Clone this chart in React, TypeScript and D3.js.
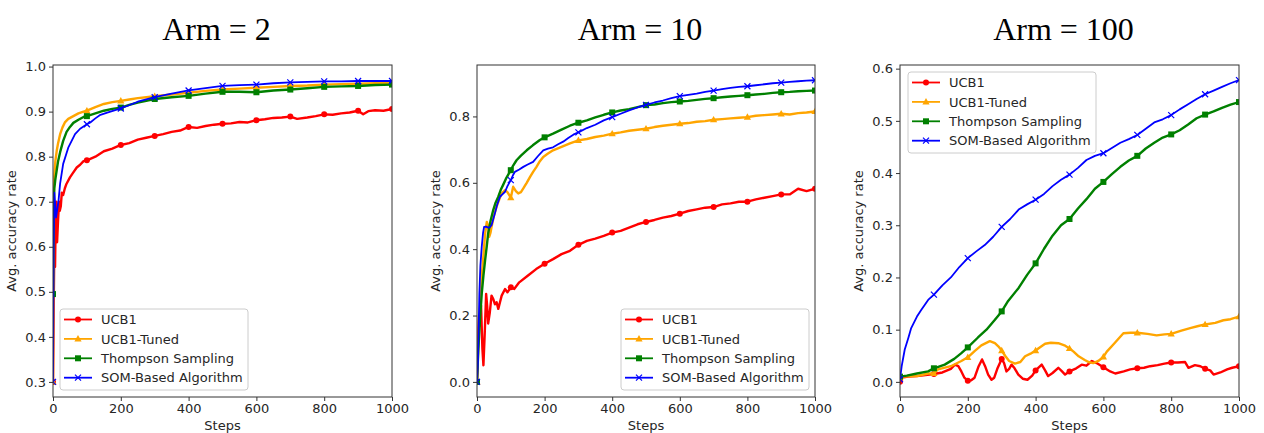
import React, { useRef, useEffect } from "react";
import * as d3 from "d3";

// [step, avg. accuracy]
const arm2Ucb1 = [
  [0, 0.3], [2, 0.45], [4, 0.62], [6, 0.555], [8, 0.66], [10, 0.7], [12, 0.61], [15, 0.66], [18, 0.7], [20, 0.68],
  [23, 0.69], [26, 0.72], [30, 0.715], [35, 0.73], [40, 0.74], [50, 0.754], [60, 0.765], [70, 0.776], [80, 0.782],
  [90, 0.79], [100, 0.792], [125, 0.8], [150, 0.812], [175, 0.818], [200, 0.826], [225, 0.83], [250, 0.838],
  [275, 0.842], [300, 0.846], [325, 0.85], [350, 0.855], [375, 0.858], [400, 0.866], [425, 0.864], [450, 0.868],
  [475, 0.871], [500, 0.873], [525, 0.874], [550, 0.877], [575, 0.876], [600, 0.881], [625, 0.883], [650, 0.886],
  [675, 0.887], [700, 0.889], [720, 0.884], [750, 0.887], [775, 0.89], [800, 0.894], [825, 0.893], [850, 0.896],
  [875, 0.898], [900, 0.902], [915, 0.894], [930, 0.901], [950, 0.903], [975, 0.902], [1000, 0.906],
];
const arm2Tuned = [
  [0, 0.3], [2, 0.74], [4, 0.76], [7, 0.79], [11, 0.813], [15, 0.83], [21, 0.85], [28, 0.865], [35, 0.876],
  [45, 0.884], [60, 0.89], [75, 0.896], [90, 0.9], [100, 0.902], [125, 0.91], [150, 0.917], [175, 0.921],
  [200, 0.924], [225, 0.927], [250, 0.93], [275, 0.932], [300, 0.934], [350, 0.938], [400, 0.942], [450, 0.946],
  [500, 0.949], [550, 0.951], [600, 0.953], [650, 0.955], [700, 0.957], [750, 0.958], [800, 0.96], [850, 0.961],
  [900, 0.962], [950, 0.963], [1000, 0.964],
];
const arm2Thompson = [
  [0, 0.495], [2, 0.69], [4, 0.73], [7, 0.75], [11, 0.77], [15, 0.79], [21, 0.81], [30, 0.835], [40, 0.855],
  [50, 0.866], [60, 0.875], [75, 0.882], [90, 0.888], [100, 0.89], [125, 0.896], [150, 0.902], [175, 0.906],
  [200, 0.909], [225, 0.915], [250, 0.92], [275, 0.924], [300, 0.928], [350, 0.932], [400, 0.935], [450, 0.94],
  [500, 0.944], [550, 0.944], [600, 0.943], [650, 0.947], [700, 0.949], [750, 0.952], [800, 0.955], [850, 0.956],
  [900, 0.957], [950, 0.959], [1000, 0.96],
];
const arm2Som = [
  [0, 0.3], [2, 0.6], [4, 0.72], [6, 0.7], [9, 0.665], [12, 0.68], [16, 0.7], [21, 0.74], [30, 0.784], [45, 0.82],
  [65, 0.85], [80, 0.862], [100, 0.872], [110, 0.876], [125, 0.885], [140, 0.893], [160, 0.898], [200, 0.907],
  [250, 0.922], [300, 0.932], [350, 0.94], [400, 0.947], [450, 0.952], [500, 0.957], [550, 0.959], [600, 0.96],
  [650, 0.963], [700, 0.965], [750, 0.966], [800, 0.967], [850, 0.967], [900, 0.968], [950, 0.968], [1000, 0.968],
];

const arm10Ucb1 = [
  [0, 0], [3, 0.12], [6, 0.2], [9, 0.17], [12, 0.23], [16, 0.1], [19, 0.05], [23, 0.15], [27, 0.265], [30, 0.23],
  [33, 0.176], [38, 0.21], [43, 0.26], [48, 0.25], [53, 0.234], [58, 0.24], [63, 0.22], [68, 0.24], [73, 0.26],
  [83, 0.28], [90, 0.27], [100, 0.285], [110, 0.28], [125, 0.3], [150, 0.32], [175, 0.34], [200, 0.356],
  [225, 0.37], [250, 0.385], [275, 0.395], [300, 0.413], [325, 0.425], [350, 0.432], [375, 0.44], [400, 0.45],
  [425, 0.455], [450, 0.465], [475, 0.475], [500, 0.482], [525, 0.488], [550, 0.495], [575, 0.5], [600, 0.507],
  [625, 0.515], [650, 0.52], [675, 0.525], [700, 0.527], [725, 0.535], [750, 0.538], [775, 0.543], [800, 0.543],
  [825, 0.55], [850, 0.555], [875, 0.56], [900, 0.565], [925, 0.565], [950, 0.582], [975, 0.575], [1000, 0.582],
];
const arm10Tuned = [
  [0, 0], [4, 0.116], [9, 0.22], [14, 0.317], [19, 0.38], [24, 0.447], [29, 0.482], [33, 0.47], [36, 0.437],
  [40, 0.45], [43, 0.467], [50, 0.5], [58, 0.528], [66, 0.55], [73, 0.568], [83, 0.578], [90, 0.572], [100, 0.555],
  [107, 0.588], [115, 0.575], [122, 0.568], [130, 0.572], [137, 0.583], [147, 0.6], [157, 0.618], [166, 0.633],
  [176, 0.648], [186, 0.665], [196, 0.678], [210, 0.688], [225, 0.698], [250, 0.708], [275, 0.719], [300, 0.728],
  [325, 0.732], [350, 0.738], [375, 0.742], [400, 0.748], [425, 0.752], [450, 0.757], [475, 0.76], [500, 0.763],
  [525, 0.768], [550, 0.772], [575, 0.775], [600, 0.778], [625, 0.78], [650, 0.784], [675, 0.786], [700, 0.79],
  [725, 0.792], [750, 0.794], [775, 0.796], [800, 0.798], [825, 0.802], [850, 0.804], [875, 0.806], [900, 0.808],
  [925, 0.806], [950, 0.81], [975, 0.812], [1000, 0.815],
];
const arm10Thompson = [
  [0, 0], [4, 0.1], [9, 0.19], [14, 0.266], [19, 0.32], [24, 0.367], [29, 0.41], [33, 0.447], [40, 0.485],
  [48, 0.518], [55, 0.54], [63, 0.558], [70, 0.578], [77, 0.593], [87, 0.615], [100, 0.638], [107, 0.652],
  [117, 0.668], [130, 0.682], [147, 0.698], [165, 0.713], [186, 0.729], [200, 0.737], [225, 0.748], [250, 0.76],
  [275, 0.772], [300, 0.781], [325, 0.788], [350, 0.797], [375, 0.805], [400, 0.812], [425, 0.818], [450, 0.822],
  [475, 0.828], [500, 0.834], [525, 0.836], [550, 0.84], [575, 0.843], [600, 0.845], [625, 0.847], [650, 0.85],
  [675, 0.853], [700, 0.855], [725, 0.858], [750, 0.86], [775, 0.862], [800, 0.864], [825, 0.866], [850, 0.868],
  [875, 0.871], [900, 0.873], [925, 0.874], [950, 0.876], [975, 0.877], [1000, 0.878],
];
const arm10Som = [
  [0, 0], [3, 0.065], [7, 0.266], [10, 0.35], [14, 0.407], [18, 0.45], [21, 0.467], [27, 0.468], [33, 0.465],
  [38, 0.466], [43, 0.472], [48, 0.49], [53, 0.508], [60, 0.535], [68, 0.558], [75, 0.565], [83, 0.573],
  [90, 0.59], [100, 0.608], [106, 0.622], [112, 0.633], [125, 0.64], [137, 0.648], [150, 0.655], [166, 0.663],
  [180, 0.68], [196, 0.698], [210, 0.703], [225, 0.707], [240, 0.716], [255, 0.724], [270, 0.735], [285, 0.745],
  [300, 0.752], [325, 0.765], [350, 0.775], [375, 0.788], [400, 0.798], [425, 0.808], [450, 0.818], [475, 0.827],
  [500, 0.835], [525, 0.842], [550, 0.848], [575, 0.855], [600, 0.861], [625, 0.865], [650, 0.869], [675, 0.874],
  [700, 0.878], [725, 0.882], [750, 0.886], [775, 0.889], [800, 0.891], [825, 0.894], [850, 0.897], [875, 0.9],
  [900, 0.902], [925, 0.904], [950, 0.906], [975, 0.908], [1000, 0.909],
];

const arm100Ucb1 = [
  [0, 0], [5, 0.008], [25, 0.01], [50, 0.011], [75, 0.013], [100, 0.015], [125, 0.018], [150, 0.025],
  [162, 0.033], [172, 0.03], [181, 0.02], [190, 0.008], [200, 0.002], [210, 0.003], [220, 0.008], [232, 0.03],
  [242, 0.043], [251, 0.03], [260, 0.014], [270, 0.004], [278, 0.008], [287, 0.025], [300, 0.044], [307, 0.036],
  [314, 0.02], [322, 0.025], [329, 0.033], [338, 0.026], [349, 0.014], [362, 0.006], [376, 0.004], [390, 0.012],
  [400, 0.022], [418, 0.033], [428, 0.022], [437, 0.011], [450, 0.017], [467, 0.027], [478, 0.02], [487, 0.014],
  [500, 0.02], [520, 0.026], [536, 0.033], [550, 0.031], [566, 0.04], [580, 0.036], [600, 0.028], [620, 0.02],
  [635, 0.016], [660, 0.02], [679, 0.024], [700, 0.026], [720, 0.027], [738, 0.03], [760, 0.032], [780, 0.035],
  [800, 0.037], [820, 0.037], [841, 0.038], [851, 0.027], [870, 0.032], [886, 0.03], [900, 0.025], [915, 0.022],
  [925, 0.014], [945, 0.018], [965, 0.024], [980, 0.027], [1000, 0.03],
];
const arm100Tuned = [
  [0, 0.008], [4, 0.01], [50, 0.011], [83, 0.016], [100, 0.016], [112, 0.024], [150, 0.03], [181, 0.04],
  [200, 0.047], [220, 0.059], [240, 0.07], [265, 0.078], [280, 0.074], [290, 0.068], [300, 0.06], [310, 0.05],
  [322, 0.04], [339, 0.035], [355, 0.038], [369, 0.049], [385, 0.054], [400, 0.06], [410, 0.065], [428, 0.073],
  [445, 0.075], [467, 0.074], [485, 0.07], [500, 0.064], [512, 0.058], [527, 0.049], [545, 0.042], [556, 0.038],
  [570, 0.036], [585, 0.04], [600, 0.048], [610, 0.058], [630, 0.072], [659, 0.093], [680, 0.094], [700, 0.094],
  [730, 0.092], [757, 0.089], [780, 0.091], [800, 0.092], [830, 0.098], [856, 0.103], [880, 0.107], [900, 0.11],
  [930, 0.113], [954, 0.118], [975, 0.12], [1000, 0.125],
];
const arm100Thompson = [
  [0, 0.01], [20, 0.012], [50, 0.016], [83, 0.02], [100, 0.026], [132, 0.033], [160, 0.044], [181, 0.055],
  [200, 0.066], [230, 0.085], [255, 0.1], [280, 0.119], [300, 0.135], [319, 0.155], [350, 0.18], [375, 0.205],
  [400, 0.227], [425, 0.255], [450, 0.28], [475, 0.3], [500, 0.312], [525, 0.332], [550, 0.35], [575, 0.37],
  [600, 0.383], [625, 0.398], [650, 0.412], [675, 0.424], [700, 0.433], [725, 0.447], [750, 0.458], [775, 0.468],
  [800, 0.474], [825, 0.482], [850, 0.493], [875, 0.505], [900, 0.512], [925, 0.518], [950, 0.525], [975, 0.531],
  [1000, 0.536],
];
const arm100Som = [
  [0, 0.005], [5, 0.03], [14, 0.062], [25, 0.085], [33, 0.103], [50, 0.125], [63, 0.138], [83, 0.157],
  [100, 0.167], [125, 0.185], [150, 0.2], [175, 0.22], [200, 0.237], [225, 0.25], [250, 0.262], [275, 0.278],
  [300, 0.297], [325, 0.312], [350, 0.33], [375, 0.34], [400, 0.349], [425, 0.36], [450, 0.375], [475, 0.387],
  [500, 0.397], [525, 0.41], [550, 0.425], [575, 0.433], [600, 0.438], [625, 0.448], [650, 0.458], [675, 0.465],
  [700, 0.473], [725, 0.485], [750, 0.497], [775, 0.503], [800, 0.511], [825, 0.522], [850, 0.532], [875, 0.542],
  [900, 0.551], [925, 0.558], [950, 0.565], [975, 0.572], [1000, 0.578],
];

const seriesNames = ["UCB1", "UCB1-Tuned", "Thompson Sampling", "SOM-Based Algorithm"];
const seriesColors = ["#ff0000", "#ffa500", "#008000", "#0000ff"];
const seriesMarkers = ["circle", "triangle", "square", "x"];
const stepTicks = [0, 200, 400, 600, 800, 1000];
const arm2YTicks = [0.3, 0.4, 0.5, 0.6, 0.7, 0.8, 0.9, 1.0];
const arm10YTicks = [0, 0.2, 0.4, 0.6, 0.8];
const arm100YTicks = [0, 0.1, 0.2, 0.3, 0.4, 0.5, 0.6];

const panels = [
  {
    title: "Arm = 2", series: [arm2Ucb1, arm2Tuned, arm2Thompson, arm2Som],
    yDomain: [0.2665, 1.0035], yTicks: arm2YTicks,
    left: 53, right: 392, legend: { x: 60, y: 309 },
  },
  {
    title: "Arm = 10", series: [arm10Ucb1, arm10Tuned, arm10Thompson, arm10Som],
    yDomain: [-0.0455, 0.955], yTicks: arm10YTicks,
    left: 477, right: 815, legend: { x: 621, y: 309 },
  },
  {
    title: "Arm = 100", series: [arm100Ucb1, arm100Tuned, arm100Thompson, arm100Som],
    yDomain: [-0.029, 0.607], yTicks: arm100YTicks,
    left: 900, right: 1239, legend: { x: 908, y: 72 },
  },
];

const TOP = 65;
const BOTTOM = 397;
const FONT = "'DejaVu Sans', sans-serif";
const FONT_SIZE = "13px";

function drawMarker(g, kind, x, y, color) {
  if (kind === "circle") {
    g.append("circle").attr("cx", x).attr("cy", y).attr("r", 3).attr("fill", color);
  } else if (kind === "square") {
    g.append("rect").attr("x", x - 3).attr("y", y - 3).attr("width", 6).attr("height", 6).attr("fill", color);
  } else if (kind === "triangle") {
    g.append("path")
      .attr("d", `M${x},${y - 3.8}L${x + 3.6},${y + 2.6}L${x - 3.6},${y + 2.6}Z`)
      .attr("fill", color);
  } else {
    g.append("path")
      .attr("d", `M${x - 3},${y - 3}L${x + 3},${y + 3}M${x - 3},${y + 3}L${x + 3},${y - 3}`)
      .attr("stroke", color)
      .attr("stroke-width", 1.2);
  }
}

const App = () => {
  const svgRef = useRef(null);

  useEffect(() => {
    const svg = d3.select(svgRef.current);
    svg.selectAll("*").remove();

    panels.forEach((p) => {
      const x = d3.scaleLinear().domain([0, 1000]).range([p.left, p.right]);
      const y = d3.scaleLinear().domain(p.yDomain).range([BOTTOM, TOP]);
      const g = svg.append("g");

      // title
      svg
        .append("text")
        .attr("x", (p.left + p.right) / 2 - 6)
        .attr("y", 40)
        .attr("text-anchor", "middle")
        .style("font-family", "'Liberation Serif', 'Times New Roman', serif")
        .style("font-size", "32px")
        .text(p.title);

      const clipId = `clip-${p.left}`;
      svg
        .append("clipPath")
        .attr("id", clipId)
        .append("rect")
        .attr("x", p.left)
        .attr("y", TOP)
        .attr("width", p.right - p.left)
        .attr("height", BOTTOM - TOP);

      const line = d3
        .line()
        .x((d) => x(d[0]))
        .y((d) => y(d[1]))
        .curve(d3.curveLinear);

      const plot = g.append("g").attr("clip-path", `url(#${clipId})`);
      p.series.forEach((data, i) => {
        plot
          .append("path")
          .datum(data)
          .attr("fill", "none")
          .attr("stroke", seriesColors[i])
          .attr("stroke-width", i === 3 ? 1.8 : 2.4)
          .attr("stroke-linejoin", "round")
          .attr("d", line);
        data
          .filter((d) => d[0] % 100 === 0)
          .forEach((d) => drawMarker(plot, seriesMarkers[i], x(d[0]), y(d[1]), seriesColors[i]));
      });

      // axes
      const xAxis = g
        .append("g")
        .attr("transform", `translate(0,${BOTTOM})`)
        .call(d3.axisBottom(x).tickValues(stepTicks).tickSize(4).tickPadding(3).tickFormat(d3.format("d")));
      const yAxis = g
        .append("g")
        .attr("transform", `translate(${p.left},0)`)
        .call(d3.axisLeft(y).tickValues(p.yTicks).tickSize(4).tickPadding(3).tickFormat(d3.format(".1f")));
      [xAxis, yAxis].forEach((a) => {
        a.select(".domain").remove();
        a.selectAll("line").attr("stroke", "#333");
        a.selectAll("text").style("font-family", FONT).style("font-size", FONT_SIZE).attr("fill", "#262626");
      });

      g.append("rect")
        .attr("x", p.left)
        .attr("y", TOP)
        .attr("width", p.right - p.left)
        .attr("height", BOTTOM - TOP)
        .attr("fill", "none")
        .attr("stroke", "#333")
        .attr("stroke-width", 1);

      g.append("text")
        .attr("x", (p.left + p.right) / 2)
        .attr("y", 430)
        .attr("text-anchor", "middle")
        .style("font-family", FONT)
        .style("font-size", FONT_SIZE)
        .attr("fill", "#262626")
        .text("Steps");

      g.append("text")
        .attr("transform", `translate(${p.left - 37},${(TOP + BOTTOM) / 2}) rotate(-90)`)
        .attr("text-anchor", "middle")
        .style("font-family", FONT)
        .style("font-size", FONT_SIZE)
        .attr("fill", "#262626")
        .text("Avg. accuracy rate");

      // legend
      const lg = g.append("g").attr("transform", `translate(${p.legend.x},${p.legend.y})`);
      lg.append("rect")
        .attr("width", 188)
        .attr("height", 81)
        .attr("rx", 3)
        .attr("fill", "white")
        .attr("fill-opacity", 0.8)
        .attr("stroke", "#ccc");
      seriesNames.forEach((name, i) => {
        const cy = 10.5 + i * 19.4;
        lg.append("line")
          .attr("x1", 4)
          .attr("x2", 32)
          .attr("y1", cy)
          .attr("y2", cy)
          .attr("stroke", seriesColors[i])
          .attr("stroke-width", 1.8);
        drawMarker(lg, seriesMarkers[i], 18, cy, seriesColors[i]);
        lg.append("text")
          .attr("x", 41)
          .attr("y", cy + 4.6)
          .style("font-family", FONT)
          .style("font-size", FONT_SIZE)
          .attr("fill", "#262626")
          .text(name);
      });
    });
  }, []);

  return (
    <svg
      ref={svgRef}
      width={1264}
      height={433}
      style={{ position: "absolute", left: 0, top: 0, background: "white" }}
    />
  );
};

export default App;
